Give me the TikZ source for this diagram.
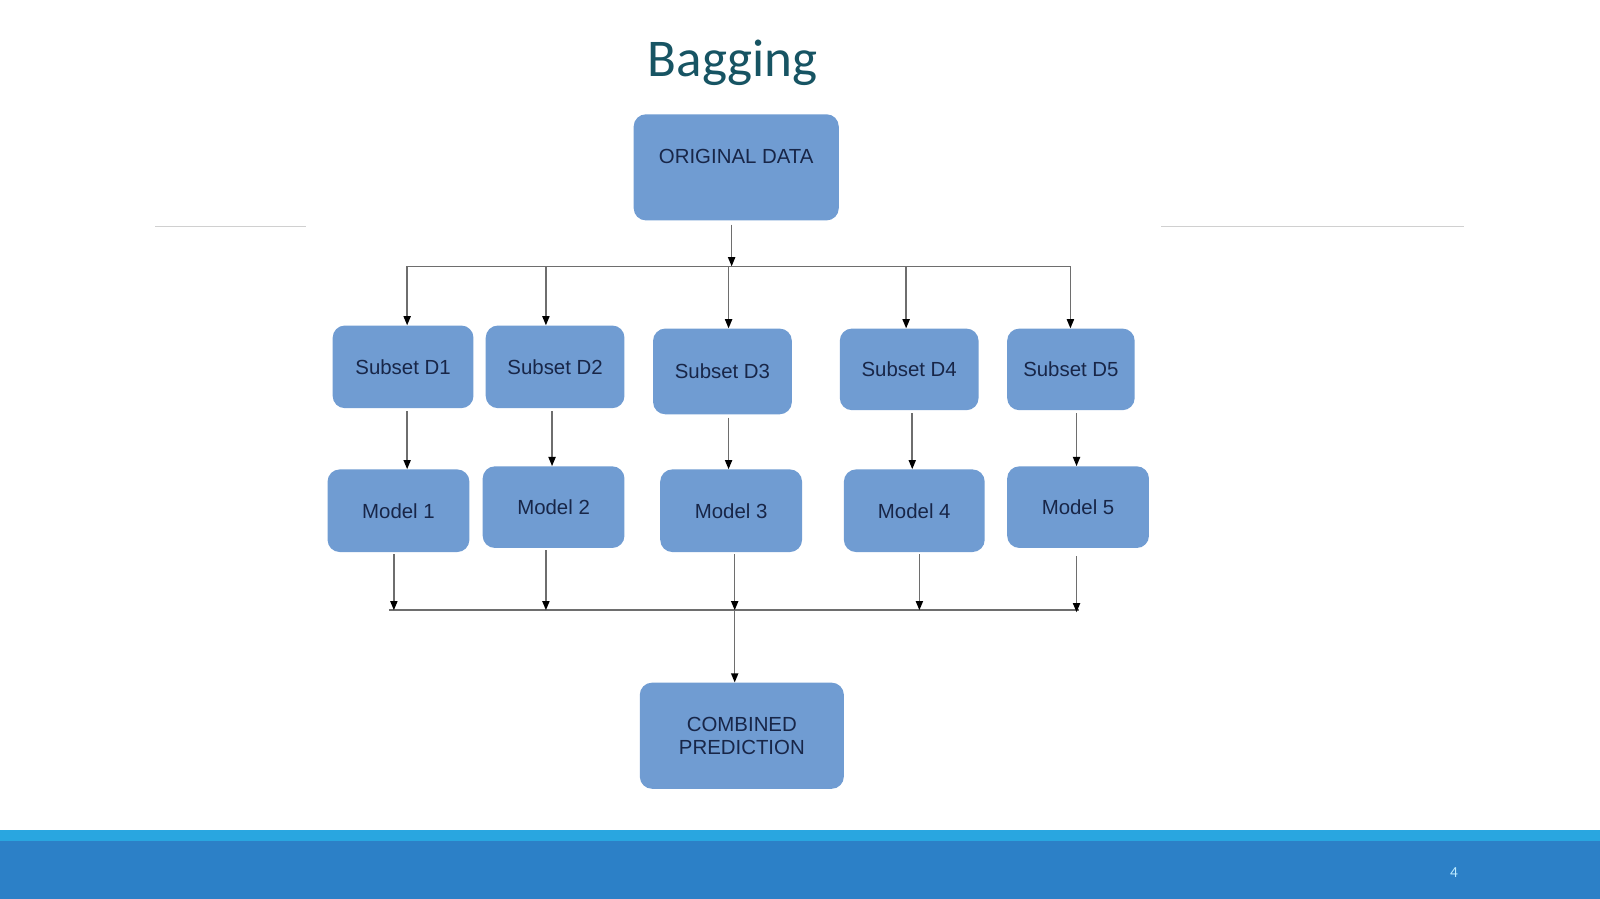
\documentclass[tikz,border=0pt]{standalone}
\usepackage{fontspec}
\setmainfont{Liberation Sans}
\newfontfamily\titlefont{Carlito}
\usetikzlibrary{arrows.meta}
\definecolor{boxblue}{RGB}{112,156,210}
\definecolor{boxtext}{RGB}{24,38,72}
\definecolor{titleteal}{RGB}{23,84,99}
\definecolor{linegray}{RGB}{110,110,110}
\definecolor{rulegray}{RGB}{208,208,208}
\definecolor{bandlight}{RGB}{41,166,224}
\definecolor{banddark}{RGB}{44,128,199}
\definecolor{pagenum}{RGB}{190,235,255}
\tikzset{
  box/.style={fill=boxblue, rounded corners=12pt, inner sep=0pt, text=boxtext, align=center,
    font=\fontsize{20}{23}\selectfont},
  ln/.style={draw=linegray, line width=1.5pt},
  arr/.style={draw=linegray, line width=1.5pt, -{Triangle[length=9pt,width=7pt,color=black]}},
}
\begin{document}
\begin{tikzpicture}[x=1pt,y=-1pt]
\useasboundingbox (0,0) rectangle (1568,881);
\fill[white] (0,0) rectangle (1568,881);
% footer band
\fill[bandlight] (0,813) rectangle (1568,824);
\fill[banddark] (0,824) rectangle (1568,881);
\node[text=pagenum, font=\titlefont\fontsize{15}{17}\selectfont, inner sep=0pt] (pg) at (1425,855) {4};
% decorative rules
\draw[rulegray, line width=1pt] (152,222) -- (300,222);
\draw[rulegray, line width=1pt] (1138,222) -- (1435,222);
% title
\node[text=titleteal, font=\titlefont\fontsize{52}{60}\selectfont, inner sep=0pt, anchor=base] (title) at (718,75) {Bagging};
% boxes
\node[box, minimum width=201pt, minimum height=104pt] (orig) at (721.5,164) {ORIGINAL DATA\\[-8pt]\strut};
\node[box, minimum width=138pt, minimum height=81pt] (d1) at (395,359.5) {Subset D1};
\node[box, minimum width=136pt, minimum height=81pt] (d2) at (544,359.5) {Subset D2};
\node[box, minimum width=136pt, minimum height=84pt] (d3) at (708,364) {Subset D3};
\node[box, minimum width=136pt, minimum height=80pt] (d4) at (891,362) {Subset D4};
\node[box, minimum width=125pt, minimum height=80pt] (d5) at (1049.5,362) {Subset D5};
\node[box, minimum width=139pt, minimum height=81pt] (m1) at (390.5,500.5) {Model 1};
\node[box, minimum width=139pt, minimum height=80pt] (m2) at (542.5,497) {Model 2};
\node[box, minimum width=139pt, minimum height=81pt] (m3) at (716.5,500.5) {Model 3};
\node[box, minimum width=138pt, minimum height=81pt] (m4) at (896,500.5) {Model 4};
\node[box, minimum width=139pt, minimum height=80pt] (m5) at (1056.5,497) {Model 5};
\node[box, minimum width=200pt, minimum height=104pt] (comb) at (727,721) {COMBINED\\PREDICTION};
% top fork
\coordinate (t0) at (717,261);
\coordinate (t1) at (399,261);
\coordinate (t2) at (535,261);
\coordinate (t3) at (714,261);
\coordinate (t4) at (888,261);
\coordinate (t5) at (1049,261);
\draw[ln] (t1) -- (t5);
\draw[arr] ([yshift=-4pt]orig.south -| t0) -- (t0);
\foreach \i in {1,...,5} { \draw[arr] (t\i) -- (t\i |- d\i.north); }
% subset -> model
\coordinate (s1) at (399,0);
\coordinate (s2) at (541,0);
\coordinate (s3) at (714,0);
\coordinate (s4) at (894,0);
\coordinate (s5) at (1055,0);
\foreach \i in {1,...,5} { \draw[arr] ([yshift=-3pt]d\i.south -| s\i) -- (m\i.north -| s\i); }
% model -> join
\coordinate (ul) at (381,598);
\coordinate (ur) at (1057,598);
\coordinate (u1) at (386,598);
\coordinate (u2) at (535,598);
\coordinate (u3) at (720,598);
\coordinate (u4) at (901,598);
\coordinate (u5) at (1055,598);
\draw[ln] (ul) -- (ur);
\foreach \i in {1,...,4} { \draw[arr] ([yshift=-2pt]m\i.south -| u\i) -- (u\i); }
\draw[arr] ([yshift=-8pt]m5.south -| u5) -- ([yshift=-2pt]u5);
\draw[arr] (u3) -- (comb.north -| u3);
\end{tikzpicture}
\end{document}
